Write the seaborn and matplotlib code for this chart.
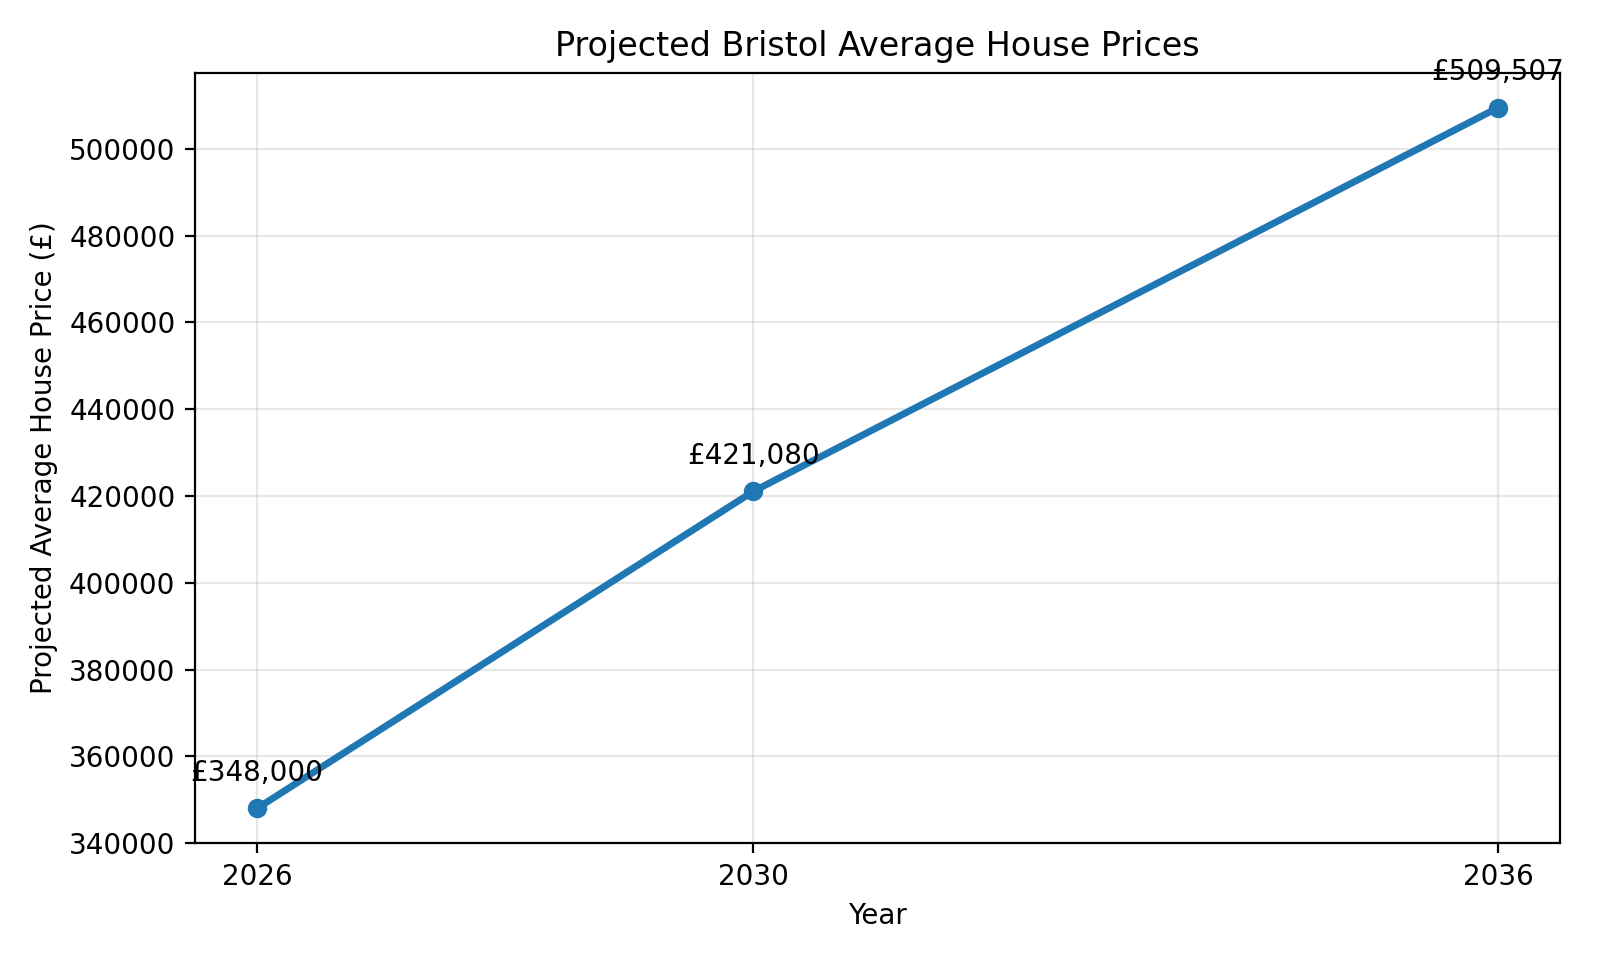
import matplotlib
matplotlib.use("Agg")
import matplotlib.pyplot as plt
import seaborn as sns
import pandas as pd

years = [2026, 2030, 2036]
prices = [348000, 421080, 509507]

df = pd.DataFrame({"Year": years, "Price": prices})

fig, ax = plt.subplots(figsize=(8, 4.8), dpi=200)

sns.lineplot(data=df, x="Year", y="Price", marker="o", linewidth=2.5,
             markersize=7, markeredgewidth=0, color="#1f77b4", ax=ax)

for x, y in zip(years, prices):
    ax.annotate(f"£{y:,}", (x, y), textcoords="offset points",
                xytext=(0, 10), ha="center")

ax.set_xticks(years)
ax.set_title("Projected Bristol Average House Prices")
ax.set_xlabel("Year")
ax.set_ylabel("Projected Average House Price (£)")
ax.grid(True, alpha=0.3)

plt.tight_layout()
plt.savefig("out.png", dpi=200)
